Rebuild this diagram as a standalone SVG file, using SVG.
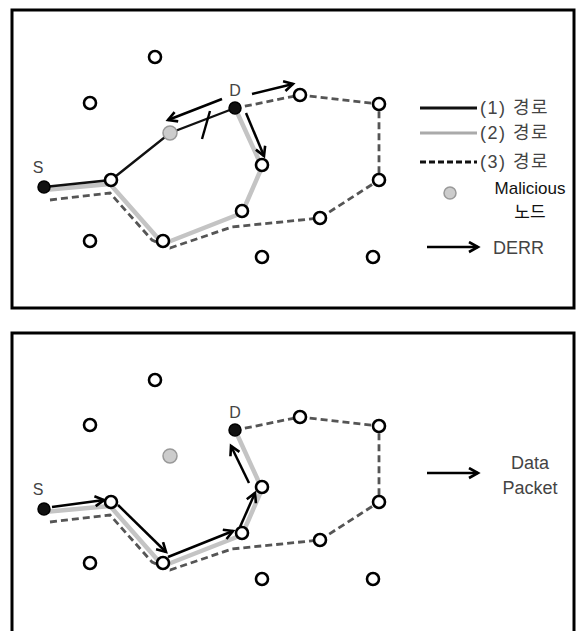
<svg xmlns="http://www.w3.org/2000/svg" width="576" height="631" viewBox="0 0 576 631">
<defs>
<marker id="ah" markerWidth="14" markerHeight="14" refX="10" refY="6" orient="auto" markerUnits="userSpaceOnUse">
<path d="M1,1 L10,6 L1,11" fill="none" stroke="#000" stroke-width="2.6" stroke-linejoin="miter"/>
</marker>
</defs>
<style>
.frame{fill:#fff;stroke:#000;stroke-width:3}
.n{fill:#fff;stroke:#000;stroke-width:2.6}
.sd{fill:#111;stroke:#000;stroke-width:1.5}
.mal{fill:#ccc;stroke:#999;stroke-width:1.5}
.p1{fill:none;stroke:#111;stroke-width:2.4}
.p2{fill:none;stroke:#c4c4c4;stroke-width:4.5;stroke-linejoin:round}
.p3{fill:none;stroke:#555;stroke-width:2.8;stroke-dasharray:7 4}
.ar{fill:none;stroke:#000;stroke-width:2.5;marker-end:url(#ah)}
.lbl{font-family:"Liberation Sans",Arial,sans-serif;font-size:16px;fill:#444}
.leg{font-family:"Liberation Sans","Noto Sans CJK KR",sans-serif;font-size:18px;fill:#444}
.legb{font-family:"Liberation Sans","Noto Sans CJK KR",sans-serif;font-size:17px;fill:#111}
</style>

<rect class="frame" x="12" y="10" width="562" height="298"/>
<rect class="frame" x="12" y="333" width="562" height="310"/>

<!-- TOP PANEL connectors -->
<g id="connectors-top">
<path class="p2" d="M44,190 L110,184 L163,244 L242,213 L262,167 L236,110"/>
<path class="p3" d="M50,200 L110,193 L152,240 L170,248 L232,227 L320,218 L379,180 L379,104 L300,95 L236,108"/>
<path class="p1" d="M44,187 L111,180 L170,133 L235,108"/>
<line x1="210" y1="111" x2="202" y2="139" stroke="#000" stroke-width="2.4"/>
<line class="ar" x1="222" y1="99" x2="168" y2="120"/>
<line class="ar" x1="252" y1="94" x2="293" y2="84"/>
<line class="ar" x1="246" y1="113" x2="264" y2="156"/>
</g>

<!-- TOP PANEL nodes -->
<g id="top-nodes">
<circle class="n" cx="155" cy="57" r="6"/>
<circle class="n" cx="90" cy="103" r="6"/>
<circle class="n" cx="90" cy="241" r="6"/>
<circle class="n" cx="262" cy="257" r="6"/>
<circle class="n" cx="373" cy="257" r="6"/>
<g id="t-S"><circle class="sd" cx="44" cy="187" r="6"/><text class="lbl" x="38" y="173" text-anchor="middle">S</text></g>
<g id="t-n1"><circle class="n" cx="111" cy="180" r="6"/></g>
<g id="t-mal"><circle class="mal" cx="170" cy="133" r="7"/></g>
<g id="t-D"><circle class="sd" cx="235" cy="108" r="6"/><text class="lbl" x="235" y="96" text-anchor="middle">D</text></g>
<g id="t-n2"><circle class="n" cx="262" cy="165" r="6"/></g>
<g id="t-n3"><circle class="n" cx="242" cy="211" r="6"/></g>
<g id="t-n4"><circle class="n" cx="163" cy="241" r="6"/></g>
<g id="t-n5"><circle class="n" cx="300" cy="95" r="6"/></g>
<g id="t-n6"><circle class="n" cx="379" cy="104" r="6"/></g>
<g id="t-n7"><circle class="n" cx="379" cy="180" r="6"/></g>
<g id="t-n8"><circle class="n" cx="320" cy="218" r="6"/></g>
</g>

<!-- TOP legend -->
<g id="legend-top">
<line x1="420" y1="108" x2="477" y2="108" stroke="#111" stroke-width="2.8"/>
<line x1="420" y1="133" x2="477" y2="133" stroke="#aaa" stroke-width="2.8"/>
<line x1="420" y1="162" x2="477" y2="162" stroke="#111" stroke-width="2.8" stroke-dasharray="6 3"/>
<text class="leg" x="480" y="114" letter-spacing="1.5">(1) 경로</text>
<text class="leg" x="480" y="139" letter-spacing="1.5">(2) 경로</text>
<text class="leg" x="480" y="168" letter-spacing="1.5">(3) 경로</text>
<circle class="mal" cx="450" cy="193" r="6"/>
<text class="legb" x="530" y="194" text-anchor="middle">Malicious</text>
<text class="legb" x="530" y="218" text-anchor="middle">노드</text>
<line class="ar" x1="427" y1="247" x2="478" y2="247"/>
<text class="leg" x="493" y="254">DERR</text>
</g>

<!-- BOTTOM PANEL connectors -->
<g id="connectors-bottom">
<path class="p2" d="M44,512 L110,506 L163,566 L242,535 L262,489 L236,432"/>
<path class="p3" d="M50,522 L110,515 L152,562 L170,570 L232,549 L320,540 L379,502 L379,426 L300,417 L236,430"/>
<line class="ar" x1="52" y1="507" x2="104" y2="500"/>
<line class="ar" x1="118" y1="505" x2="166" y2="552"/>
<line class="ar" x1="168" y1="557" x2="233" y2="531"/>
<line class="ar" x1="240" y1="527" x2="255" y2="493"/>
<line class="ar" x1="249" y1="483" x2="231" y2="446"/>
</g>

<!-- BOTTOM PANEL nodes -->
<g id="bottom-nodes">
<circle class="n" cx="155" cy="380" r="6"/>
<circle class="n" cx="90" cy="425" r="6"/>
<circle class="n" cx="90" cy="563" r="6"/>
<circle class="n" cx="262" cy="579" r="6"/>
<circle class="n" cx="373" cy="579" r="6"/>
<g id="b-S"><circle class="sd" cx="44" cy="509" r="6"/><text class="lbl" x="38" y="495" text-anchor="middle">S</text></g>
<g id="b-n1"><circle class="n" cx="111" cy="502" r="6"/></g>
<g id="b-mal"><circle class="mal" cx="170" cy="456" r="7"/></g>
<g id="b-D"><circle class="sd" cx="235" cy="430" r="6"/><text class="lbl" x="235" y="418" text-anchor="middle">D</text></g>
<g id="b-n2"><circle class="n" cx="262" cy="487" r="6"/></g>
<g id="b-n3"><circle class="n" cx="242" cy="533" r="6"/></g>
<g id="b-n4"><circle class="n" cx="163" cy="563" r="6"/></g>
<g id="b-n5"><circle class="n" cx="300" cy="417" r="6"/></g>
<g id="b-n6"><circle class="n" cx="379" cy="426" r="6"/></g>
<g id="b-n7"><circle class="n" cx="379" cy="502" r="6"/></g>
<g id="b-n8"><circle class="n" cx="320" cy="540" r="6"/></g>
</g>

<!-- BOTTOM legend -->
<g id="legend-bottom">
<line class="ar" x1="427" y1="473" x2="478" y2="473"/>
<text class="leg" x="530" y="469" text-anchor="middle">Data</text>
<text class="leg" x="530" y="494" text-anchor="middle">Packet</text>
</g>
</svg>
